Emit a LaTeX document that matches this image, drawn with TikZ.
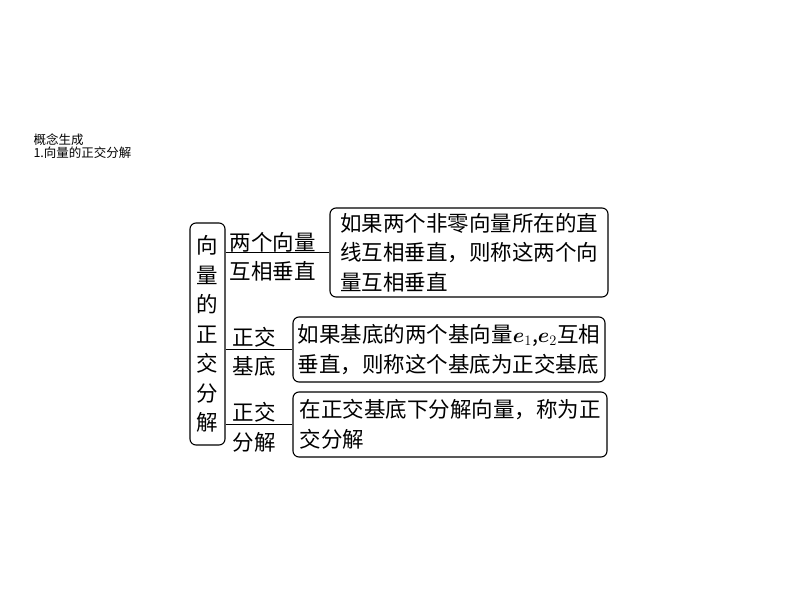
\documentclass[tikz,border=0pt]{standalone}
\usepackage{amsmath}
\usepackage{bm}
\usepackage{fontspec}
\setmainfont{Noto Sans CJK SC}
\begin{document}
\begin{tikzpicture}[x=1pt,y=-1pt,line width=1.1pt,
  bigtext/.style={font=\fontsize{21.5}{29.5}\selectfont},
  rootbox/.style={draw,rounded corners=6pt,bigtext,align=center,inner sep=0pt,minimum width=35pt,minimum height=222pt},
  descbox/.style={draw,rounded corners=6pt,bigtext,align=left,inner sep=0pt},
  branch/.style={bigtext,align=left,inner sep=0pt,anchor=west}]
\useasboundingbox (0,0) rectangle (794,596);
% heading
\node[anchor=west,inner sep=0pt,align=left,font=\fontsize{12.5}{13}\selectfont] (head) at (33,146.5) {概念生成\\1.向量的正交分解};

\node[rootbox] (root) at (207.5,334) {向\\量\\的\\正\\交\\分\\解};

\node[descbox,minimum width=278pt,minimum height=89pt] (defA) at (469,252.5)
  {如果两个非零向量所在的直\\线互相垂直，则称这两个向\\量互相垂直};
\node[descbox,minimum width=312pt,minimum height=65pt] (defB) at (449,349.5)
  {如果基底的两个基向量$\bm{e}_1$,$\bm{e}_2$互相\\垂直，则称这个基底为正交基底};
\node[descbox,minimum width=314pt,minimum height=65pt] (defC) at (450,424.5)
  {在正交基底下分解向量，称为正\\交分解};

\node[branch] (brA) at (229,257) {两个向量\\互相垂直};
\node[branch] (brB) at (232,352) {正交\\基底};
\node[branch] (brC) at (232,427.5) {正交\\分解};

\draw (root.east |- defA.west) -- (defA.west);
\draw (root.east |- defB.west) -- (defB.west);
\draw (root.east |- defC.west) -- (defC.west);
\end{tikzpicture}
\end{document}
